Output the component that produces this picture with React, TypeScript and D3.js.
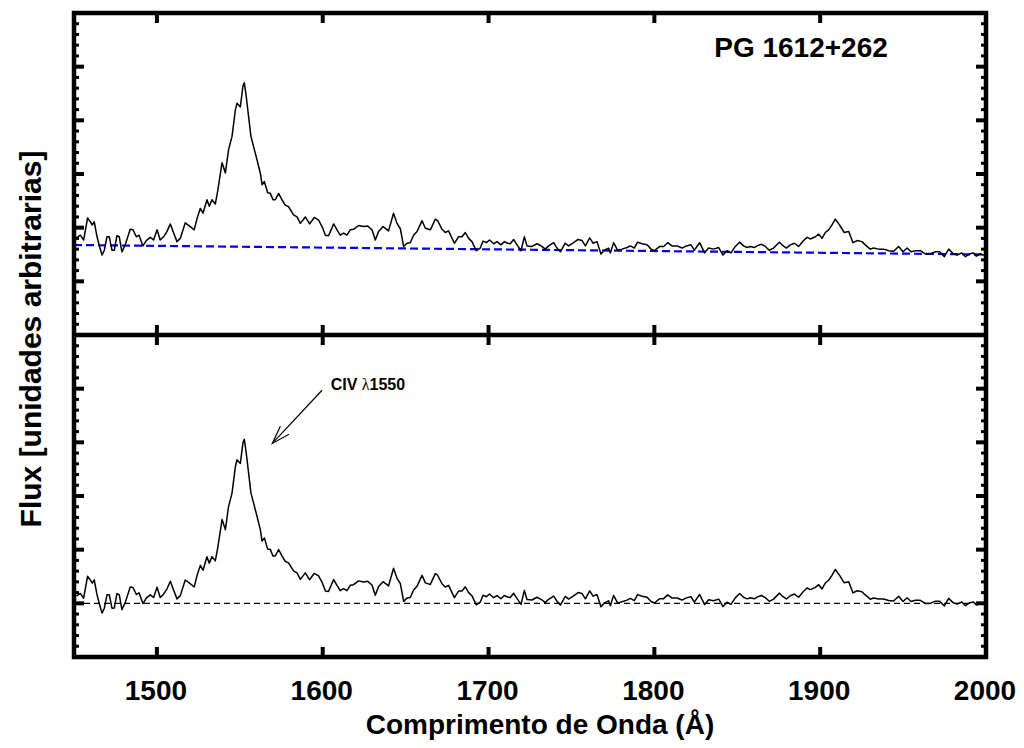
import React from 'react';
import * as d3 from 'd3';

const wavelength = [
  1451.4, 1453.8, 1455.8, 1458.2, 1459.8, 1461.0, 1462.2, 1463.9, 1465.4, 1466.9,
  1468.3, 1469.9, 1471.3, 1472.9, 1474.3, 1475.9, 1477.3, 1478.9, 1480.9, 1483.9,
  1485.6, 1487.6, 1489.2, 1491.6, 1493.6, 1496.0, 1498.0, 1500.1, 1502.0, 1504.0,
  1506.1, 1508.1, 1510.1, 1512.1, 1514.1, 1517.1, 1520.1, 1522.5, 1524.2, 1526.2,
  1527.8, 1530.2, 1531.6, 1533.2, 1535.2, 1536.6, 1539.3, 1541.3, 1543.2, 1545.3,
  1547.3, 1548.3, 1550.3, 1551.9, 1552.7, 1553.9, 1555.3, 1556.7, 1558.3, 1560.4,
  1562.4, 1563.4, 1564.8, 1566.8, 1568.4, 1570.0, 1571.4, 1573.4, 1575.4, 1577.4,
  1579.4, 1582.4, 1584.5, 1586.5, 1589.5, 1592.1, 1594.9, 1597.5, 1599.6, 1601.6,
  1603.5, 1606.6, 1608.6, 1610.6, 1612.6, 1614.6, 1616.6, 1618.6, 1621.6, 1624.7,
  1627.1, 1629.7, 1631.7, 1633.7, 1636.4, 1639.7, 1642.7, 1644.8, 1646.8, 1648.8,
  1650.8, 1652.8, 1654.8, 1656.9, 1659.9, 1661.9, 1664.9, 1667.9, 1669.3, 1671.9,
  1673.9, 1675.9, 1679.4, 1681.9, 1684.0, 1686.0, 1688.0, 1690.0, 1692.6, 1695.0,
  1696.7, 1698.7, 1700.6, 1703.1, 1705.1, 1707.5, 1709.5, 1711.5, 1713.1, 1715.1,
  1717.2, 1719.6, 1721.6, 1723.2, 1726.2, 1729.2, 1732.2, 1734.2, 1736.2, 1739.3,
  1741.3, 1743.3, 1746.3, 1748.3, 1751.3, 1754.0, 1756.4, 1758.4, 1761.0, 1763.0,
  1765.4, 1767.8, 1769.8, 1772.4, 1773.5, 1775.4, 1777.8, 1780.5, 1783.5, 1785.5,
  1787.9, 1789.9, 1792.6, 1795.6, 1798.0, 1800.0, 1803.2, 1805.6, 1808.0, 1810.7,
  1813.7, 1816.7, 1819.3, 1822.1, 1824.1, 1827.3, 1830.3, 1832.7, 1835.7, 1838.8,
  1841.4, 1843.8, 1846.2, 1848.8, 1851.4, 1853.8, 1855.9, 1857.9, 1860.3, 1861.9,
  1864.5, 1866.9, 1869.3, 1871.9, 1875.4, 1877.0, 1879.6, 1882.0, 1884.4, 1887.0,
  1890.0, 1892.1, 1894.1, 1897.1, 1899.1, 1901.1, 1903.1, 1905.1, 1907.1, 1909.1,
  1911.7, 1914.5, 1917.2, 1919.8, 1922.2, 1925.2, 1927.2, 1930.2, 1932.2, 1935.3,
  1938.3, 1941.3, 1944.3, 1947.3, 1950.0, 1952.4, 1954.8, 1957.4, 1960.4, 1963.4,
  1966.4, 1969.5, 1972.0, 1974.9, 1977.5, 1980.1, 1982.5, 1985.5, 1987.6, 1990.1,
  1992.2, 1994.2, 1996.6, 1998.2, 2000.0,
];

const flux = [
  1.81, 1.86, 1.77, 2.18, 2.11, 2.05, 2.11, 1.83, 1.65, 1.49,
  1.58, 1.83, 1.83, 1.58, 1.58, 1.85, 1.83, 1.55, 1.68, 1.97,
  1.96, 1.83, 1.86, 1.66, 1.76, 1.82, 1.77, 1.96, 1.77, 1.83,
  1.93, 2.07, 1.90, 1.74, 1.80, 2.09, 2.02, 1.96, 2.17, 2.36,
  2.27, 2.52, 2.40, 2.52, 2.44, 2.67, 3.21, 3.02, 3.45, 3.70,
  4.19, 4.32, 4.25, 4.64, 4.70, 4.44, 4.07, 3.70, 3.51, 3.26,
  3.01, 2.80, 2.86, 2.65, 2.64, 2.52, 2.52, 2.64, 2.52, 2.42,
  2.39, 2.24, 2.20, 2.08, 2.20, 2.07, 2.19, 2.14, 2.02, 1.86,
  1.85, 2.07, 1.96, 1.86, 1.90, 1.86, 1.96, 1.97, 2.04, 2.02,
  2.03, 1.96, 1.77, 1.93, 2.02, 1.94, 2.27, 2.08, 1.98, 1.65,
  1.71, 1.72, 1.86, 1.93, 2.13, 1.99, 1.96, 2.16, 2.13, 1.97,
  1.91, 1.94, 1.71, 1.83, 1.83, 1.91, 1.80, 1.74, 1.57, 1.62,
  1.75, 1.72, 1.77, 1.70, 1.74, 1.68, 1.74, 1.71, 1.70, 1.78,
  1.68, 1.57, 1.83, 1.66, 1.65, 1.70, 1.65, 1.60, 1.66, 1.72,
  1.62, 1.55, 1.71, 1.66, 1.72, 1.78, 1.76, 1.66, 1.81, 1.71,
  1.74, 1.51, 1.58, 1.62, 1.53, 1.72, 1.58, 1.60, 1.63, 1.66,
  1.62, 1.73, 1.70, 1.68, 1.60, 1.57, 1.65, 1.65, 1.72, 1.66,
  1.66, 1.62, 1.66, 1.68, 1.58, 1.72, 1.53, 1.62, 1.60, 1.63,
  1.49, 1.57, 1.53, 1.65, 1.73, 1.66, 1.63, 1.65, 1.63, 1.66,
  1.69, 1.65, 1.58, 1.62, 1.73, 1.68, 1.62, 1.68, 1.71, 1.65,
  1.76, 1.82, 1.79, 1.83, 1.88, 1.80, 1.91, 1.96, 2.05, 2.16,
  2.05, 1.91, 1.93, 1.72, 1.76, 1.74, 1.68, 1.60, 1.62, 1.60,
  1.60, 1.57, 1.56, 1.65, 1.55, 1.62, 1.55, 1.57, 1.57, 1.51,
  1.51, 1.55, 1.55, 1.46, 1.60, 1.52, 1.49, 1.53, 1.46, 1.51,
  1.53, 1.47, 1.51, 1.49, 1.50,
];

// linear continuum fit (top panel, blue dashed)
const continuumWave = [1450, 2000];
const continuumFlux = [1.677, 1.5];

const xTickValues = [1500, 1600, 1700, 1800, 1900, 2000];
const xTickLabels = ['1500', '1600', '1700', '1800', '1900', '2000'];

const titleText = 'PG 1612+262';
const lineLabelMain = 'CIV ';
const lineLabelLambda = 'λ';
const lineLabelNum = '1550';
const xLabelText = 'Comprimento de Onda (Å)';
const yLabelText = 'Flux [unidades arbitrarias]';

// annotation anchors in bottom-panel data coordinates
const arrowFrom = [1599.6, 3.97];
const arrowTo = [1569.6, 2.98];
const labelAt = [1604.8, 3.97];

const W = 1024;
const H = 748;
const L = 74;
const R = 986;
const T = 13;
const M = 335;
const B = 657;
const FONT = "'Liberation Sans', Arial, Helvetica, sans-serif";

export default function App() {
  const x = d3.scaleLinear().domain([1450, 2000]).range([L, R]);
  const yTop = d3.scaleLinear().domain([0, 6]).range([M, T]);
  const yBot = d3.scaleLinear().domain([-1, 5]).range([B, M]);
  const cont = d3.scaleLinear().domain(continuumWave).range(continuumFlux);
  const residual = flux.map((f, i) => f - cont(wavelength[i]));

  const lineTop = d3
    .line<number>()
    .x((_, i) => x(wavelength[i]))
    .y((d) => yTop(d));
  const lineBot = d3
    .line<number>()
    .x((_, i) => x(wavelength[i]))
    .y((d) => yBot(d));
  const contLine = d3
    .line<number>()
    .x((d) => x(d))
    .y((d) => yTop(cont(d)));

  const majorTop = yTop.ticks(6);
  const minorTop = yTop.ticks(30).filter((v) => Math.abs(v - Math.round(v)) > 1e-6);
  const majorBot = yBot.ticks(6);
  const minorBot = yBot.ticks(30).filter((v) => Math.abs(v - Math.round(v)) > 1e-6);

  const yTicks: { y: number; major: boolean }[] = [];
  majorTop.forEach((v) => yTicks.push({ y: yTop(v), major: true }));
  minorTop.forEach((v) => yTicks.push({ y: yTop(v), major: false }));
  majorBot.forEach((v) => yTicks.push({ y: yBot(v), major: true }));
  minorBot.forEach((v) => yTicks.push({ y: yBot(v), major: false }));

  const majLen = 10;
  const minLen = 5;

  // arrow geometry
  const ax0 = x(arrowFrom[0]);
  const ay0 = yBot(arrowFrom[1]);
  const ax1 = x(arrowTo[0]);
  const ay1 = yBot(arrowTo[1]);
  const ang = Math.atan2(ay0 - ay1, ax0 - ax1);
  const headLen = 19;
  const headAng = (18 * Math.PI) / 180;
  const h1 = [ax1 + headLen * Math.cos(ang + headAng), ay1 + headLen * Math.sin(ang + headAng)];
  const h2 = [ax1 + headLen * Math.cos(ang - headAng), ay1 + headLen * Math.sin(ang - headAng)];

  return (
    <svg
      width={W}
      height={H}
      viewBox={`0 0 ${W} ${H}`}
      style={{ position: 'absolute', left: 0, top: 0, background: '#fff' }}
    >
      <defs>
        <clipPath id="clipTop">
          <rect x={L} y={T} width={R - L} height={M - T} />
        </clipPath>
        <clipPath id="clipBot">
          <rect x={L} y={M} width={R - L} height={B - M} />
        </clipPath>
      </defs>
      <rect x={0} y={0} width={W} height={H} fill="#fff" />

      {/* top panel */}
      <g clipPath="url(#clipTop)">
        <path
          d={contLine(continuumWave) || ''}
          fill="none"
          stroke="#0000f0"
          strokeWidth={2.2}
          strokeDasharray="8,4"
        />
        <path d={lineTop(flux) || ''} fill="none" stroke="#000" strokeWidth={1.5} strokeLinejoin="round" />
      </g>

      {/* bottom panel */}
      <g clipPath="url(#clipBot)">
        <line x1={L} x2={R} y1={yBot(0)} y2={yBot(0)} stroke="#000" strokeWidth={1.2} strokeDasharray="6,4" />
        <path d={lineBot(residual) || ''} fill="none" stroke="#000" strokeWidth={1.5} strokeLinejoin="round" />
      </g>

      {/* y ticks, both sides */}
      {yTicks.map((t, i) => (
        <g key={`yt${i}`}>
          <line
            x1={L}
            x2={L + (t.major ? majLen : minLen)}
            y1={t.y}
            y2={t.y}
            stroke="#000"
            strokeWidth={t.major ? 4 : 3}
          />
          <line
            x1={R}
            x2={R - (t.major ? majLen : minLen)}
            y1={t.y}
            y2={t.y}
            stroke="#000"
            strokeWidth={t.major ? 4 : 3}
          />
        </g>
      ))}

      {/* x ticks on all horizontal borders */}
      {xTickValues.map((v, i) => (
        <g key={`xt${i}`}>
          <line x1={x(v)} x2={x(v)} y1={T} y2={T + majLen} stroke="#000" strokeWidth={4} />
          <line x1={x(v)} x2={x(v)} y1={M} y2={M - majLen} stroke="#000" strokeWidth={4} />
          <line x1={x(v)} x2={x(v)} y1={M} y2={M + majLen} stroke="#000" strokeWidth={4} />
          <line x1={x(v)} x2={x(v)} y1={B} y2={B - majLen} stroke="#000" strokeWidth={4} />
        </g>
      ))}

      {/* frames */}
      <rect x={L} y={T} width={R - L} height={B - T} fill="none" stroke="#000" strokeWidth={4.5} />
      <line x1={L} x2={R} y1={M} y2={M} stroke="#000" strokeWidth={4.5} />

      {/* x tick labels */}
      {xTickValues.map((v, i) => (
        <text
          key={`xl${i}`}
          x={x(v) - 1}
          y={700}
          textAnchor="middle"
          fontFamily={FONT}
          fontWeight="bold"
          fontSize={28}
        >
          {xTickLabels[i]}
        </text>
      ))}

      {/* axis labels */}
      <text x={540} y={734} textAnchor="middle" fontFamily={FONT} fontWeight="bold" fontSize={28}>
        {xLabelText}
      </text>
      <text
        transform={`translate(41, 339) rotate(-90)`}
        textAnchor="middle"
        fontFamily={FONT}
        fontWeight="bold"
        fontSize={30}
      >
        {yLabelText}
      </text>

      {/* title */}
      <text x={801} y={57} textAnchor="middle" fontFamily={FONT} fontWeight="bold" fontSize={28}>
        {titleText}
      </text>

      {/* CIV annotation */}
      <text x={x(labelAt[0])} y={yBot(labelAt[1])} fontFamily={FONT} fontWeight="bold" fontSize={16}>
        {lineLabelMain}
        <tspan fontFamily="'Liberation Serif', 'DejaVu Serif', serif" fontWeight="normal">
          {lineLabelLambda}
        </tspan>
        {lineLabelNum}
      </text>
      <line x1={ax0} y1={ay0} x2={ax1} y2={ay1} stroke="#000" strokeWidth={1.2} />
      <polyline
        points={`${h1[0]},${h1[1]} ${ax1},${ay1} ${h2[0]},${h2[1]}`}
        fill="none"
        stroke="#000"
        strokeWidth={1.2}
      />
    </svg>
  );
}
